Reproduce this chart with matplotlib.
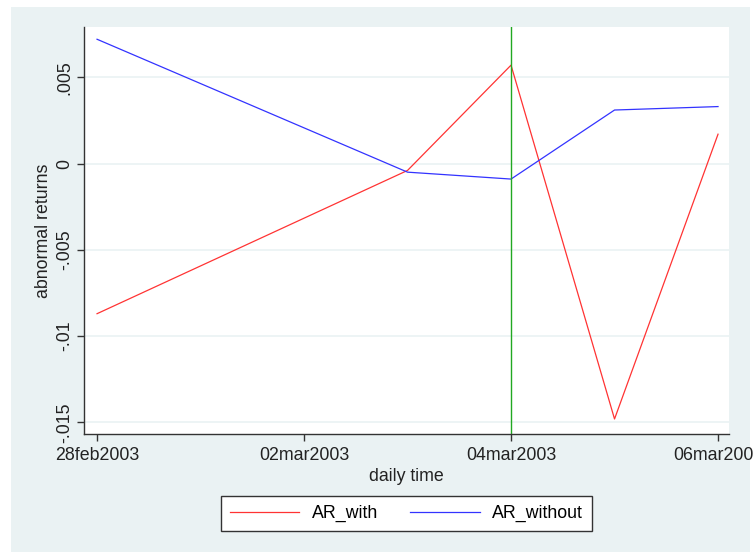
import matplotlib
matplotlib.use("Agg")
import matplotlib.pyplot as plt
import matplotlib.dates as mdates
from matplotlib.patches import Rectangle
import pandas as pd

# event window around the 04mar2003 announcement
dates = pd.to_datetime(["2003-02-28", "2003-03-03", "2003-03-04", "2003-03-05", "2003-03-06"])
ar_with = [-0.0087, -0.0004, 0.0057, -0.0148, 0.0017]
ar_without = [0.0072, -0.0005, -0.0009, 0.0031, 0.0033]
event_date = pd.Timestamp("2003-03-04")
x_ticks = pd.to_datetime(["2003-02-28", "2003-03-02", "2003-03-04", "2003-03-06"])
y_ticks = [0.005, 0, -0.005, -0.01, -0.015]
y_labels = [".005", "0", "-.005", "-.01", "-.015"]

plt.rcParams["font.family"] = ["Liberation Sans", "DejaVu Sans"]
bg = "#eaf2f3"
axc = "#333333"
txt = "#222222"
fs = 12.8

fig = plt.figure(figsize=(7.53, 5.52), dpi=100)
fig.patch.set_facecolor("white")
fig.patches.append(Rectangle((11 / 753, 0), (750 - 11) / 753, (552 - 7) / 552,
                             transform=fig.transFigure, facecolor=bg, edgecolor="none", zorder=-10))

ax = fig.add_axes([84 / 753, 1 - 434 / 552, (729 - 84) / 753, (434 - 27) / 552])
ax.set_facecolor("white")

ax.plot(dates, ar_with, color="#ff3333", lw=0.9, label="AR_with")
ax.plot(dates, ar_without, color="#3333ff", lw=0.9, label="AR_without")
ax.axvline(event_date, color="#22a822", lw=1.0)

x0 = dates[0]
ax.set_xlim(x0 - pd.Timedelta(days=0.126), x0 + pd.Timedelta(days=6.106))
ax.set_ylim(-0.01567, 0.00791)

ax.set_xticks(x_ticks)
ax.xaxis.set_major_formatter(plt.FuncFormatter(
    lambda v, p: mdates.num2date(v).strftime("%d%b%Y").lower()))
ax.set_yticks(y_ticks)
ax.set_yticklabels(y_labels, rotation=90, va="center")
ax.grid(axis="y", color=bg, lw=1.2)
ax.set_axisbelow(True)

for s in ["top", "right"]:
    ax.spines[s].set_visible(False)
for s in ["left", "bottom"]:
    ax.spines[s].set_color(axc)
    ax.spines[s].set_linewidth(1.0)
ax.tick_params(direction="out", length=5, width=1, color=axc, labelsize=fs, labelcolor=txt)
ax.tick_params(axis="x", pad=4)
ax.tick_params(axis="y", pad=3)

ax.set_xlabel("daily time", fontsize=fs, color=txt, labelpad=3)
ax.set_ylabel("abnormal returns", fontsize=fs, color=txt, labelpad=3)

leg = fig.legend(loc="center", bbox_to_anchor=(406.5 / 753, 1 - 513.5 / 552), ncol=2,
                 fontsize=fs, frameon=True, fancybox=False, framealpha=1, handlelength=3.9,
                 columnspacing=1.8, borderpad=0.5, handletextpad=0.7)
leg.get_frame().set_edgecolor(axc)
leg.get_frame().set_linewidth(1.0)

fig.savefig("out.png", dpi=100)
